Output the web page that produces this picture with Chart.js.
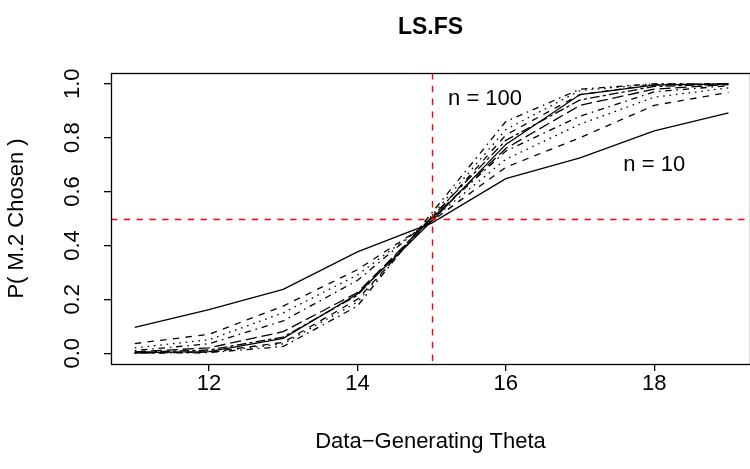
<!DOCTYPE html>
<html>
<head>
<meta charset="utf-8">
<script src="https://cdn.jsdelivr.net/npm/chart.js@4.4.0/dist/chart.umd.min.js"></script>
<style>
    html, body { margin: 0; padding: 0; background: #fff; }
    #wrap { width: 750px; height: 469px; }
</style>
</head>
<body>
<div id="wrap"><canvas id="chart"></canvas></div>
<script>
// data
const theta = [11, 12, 13, 14, 15, 16, 17, 18, 19];
const sampleSizes = [10, 20, 30, 40, 50, 60, 70, 80, 90, 100];

const pN10  = [0.096, 0.162, 0.237, 0.376, 0.483, 0.648, 0.725, 0.825, 0.892];
const pN20  = [0.036, 0.070, 0.175, 0.310, 0.490, 0.690, 0.800, 0.920, 0.968];
const pN30  = [0.020, 0.050, 0.150, 0.290, 0.495, 0.720, 0.850, 0.950, 0.985];
const pN40  = [0.010, 0.035, 0.120, 0.270, 0.500, 0.750, 0.880, 0.970, 0.993];
const pN50  = [0.005, 0.020, 0.080, 0.225, 0.500, 0.760, 0.920, 0.980, 0.997];
const pN60  = [0.003, 0.012, 0.060, 0.215, 0.505, 0.790, 0.940, 0.990, 0.999];
const pN70  = [0.002, 0.006, 0.055, 0.220, 0.490, 0.775, 0.960, 0.995, 1.000];
const pN80  = [0.001, 0.004, 0.040, 0.200, 0.500, 0.810, 0.960, 0.997, 1.000];
const pN90  = [0.001, 0.003, 0.035, 0.190, 0.510, 0.830, 0.975, 0.999, 1.000];
const pN100 = [0.000, 0.002, 0.025, 0.175, 0.520, 0.860, 0.980, 1.000, 1.000];

const xTicks = [12, 14, 16, 18];
const yTicks = [0, 0.2, 0.4, 0.6, 0.8, 1.0];
const yTickLabels = ['0.0', '0.2', '0.4', '0.6', '0.8', '1.0'];

const refTheta = 15;
const refProb = 0.5;

const notes = [
    { x: 15.72, y: 0.945, text: 'n = 100' },
    { x: 18.0, y: 0.697, text: 'n = 10' }
];

const seriesList = [pN10, pN20, pN30, pN40, pN50, pN60, pN70, pN80, pN90, pN100];

// R lty 1..6 cycling
const dashes = [
    [],
    [6.4, 6.4],
    [1.6, 4.8],
    [1.6, 4.8, 6.4, 4.8],
    [11.2, 4.8],
    [3.2, 3.2, 9.6, 3.2]
];

const FONT = '"Liberation Sans", Arial, Helvetica, sans-serif';
const BASE = 22;

const datasets = seriesList.map((vals, i) => ({
    label: 'n = ' + sampleSizes[i],
    data: theta.map((t, j) => ({ x: t, y: vals[j] })),
    borderColor: '#000',
    borderWidth: 1.3,
    borderDash: dashes[i % dashes.length],
    pointRadius: 0,
    tension: 0,
    fill: false
}));

const decorations = {
    id: 'decorations',
    afterDatasetsDraw(chart) {
        const { ctx, chartArea: a, scales } = chart;
        const px = Math.round(scales.x.getPixelForValue(refTheta)) + 0.5;
        const py = Math.round(scales.y.getPixelForValue(refProb)) + 0.5;
        ctx.save();
        ctx.beginPath();
        ctx.rect(a.left, a.top, a.right - a.left, a.bottom - a.top);
        ctx.clip();
        ctx.strokeStyle = '#ff0000';
        ctx.lineWidth = 1.4;
        ctx.setLineDash([6.4, 6.4]);
        ctx.beginPath();
        ctx.moveTo(px, a.top);
        ctx.lineTo(px, a.bottom);
        ctx.moveTo(a.left, py);
        ctx.lineTo(a.right, py);
        ctx.stroke();
        ctx.restore();
    },
    afterDraw(chart) {
        const { ctx, chartArea: a, scales } = chart;
        ctx.save();
        ctx.fillStyle = '#000';

        // box
        ctx.strokeStyle = '#000';
        ctx.lineWidth = 1.3;
        ctx.strokeRect(Math.round(a.left) + 0.5, Math.round(a.top) + 0.5,
            a.right - a.left, a.bottom - a.top);

        // title
        const cx = (a.left + a.right) / 2;
        ctx.textAlign = 'center';
        ctx.textBaseline = 'middle';
        ctx.font = 'bold 23px ' + FONT;
        ctx.fillText('LS.FS', cx, 28);

        // x axis title
        ctx.font = BASE + 'px ' + FONT;
        ctx.fillText('Data\u2212Generating Theta', cx, 442);

        // annotations
        notes.forEach(n => {
            ctx.fillText(n.text, scales.x.getPixelForValue(n.x), scales.y.getPixelForValue(n.y));
        });

        // y tick labels, rotated like R
        yTicks.forEach((v, i) => {
            ctx.save();
            ctx.translate(73, scales.y.getPixelForValue(v));
            ctx.rotate(-Math.PI / 2);
            ctx.fillText(yTickLabels[i], 0, 0);
            ctx.restore();
        });

        // y axis title
        ctx.save();
        ctx.translate(17, (a.top + a.bottom) / 2);
        ctx.rotate(-Math.PI / 2);
        ctx.fillText('P( M.2 Chosen )', 0, 0);
        ctx.restore();

        ctx.restore();
    }
};

new Chart(document.getElementById('chart'), {
    type: 'line',
    data: { datasets },
    options: {
        responsive: true,
        maintainAspectRatio: false,
        animation: false,
        layout: { padding: { top: 73, right: 0, left: 0, bottom: 0 } },
        plugins: {
            legend: { display: false },
            tooltip: { enabled: false },
            title: { display: false }
        },
        scales: {
            x: {
                type: 'linear',
                min: 10.68,
                max: 19.29,
                afterBuildTicks: s => { s.ticks = xTicks.map(v => ({ value: v })); },
                afterFit: s => { s.height = 105; },
                border: { display: false },
                grid: { drawOnChartArea: false, drawTicks: true, tickLength: 7, color: '#000', lineWidth: 1.3 },
                ticks: {
                    color: '#000',
                    padding: 0,
                    maxRotation: 0,
                    font: { family: FONT, size: BASE },
                    callback: v => String(v)
                }
            },
            y: {
                type: 'linear',
                min: -0.04,
                max: 1.04,
                afterBuildTicks: s => { s.ticks = yTicks.map(v => ({ value: v })); },
                afterFit: s => { s.width = 111; },
                border: { display: false },
                grid: { drawOnChartArea: false, drawTicks: true, tickLength: 7, color: '#000', lineWidth: 1.3 },
                ticks: { display: false }
            }
        }
    },
    plugins: [decorations]
});
</script>
</body>
</html>
